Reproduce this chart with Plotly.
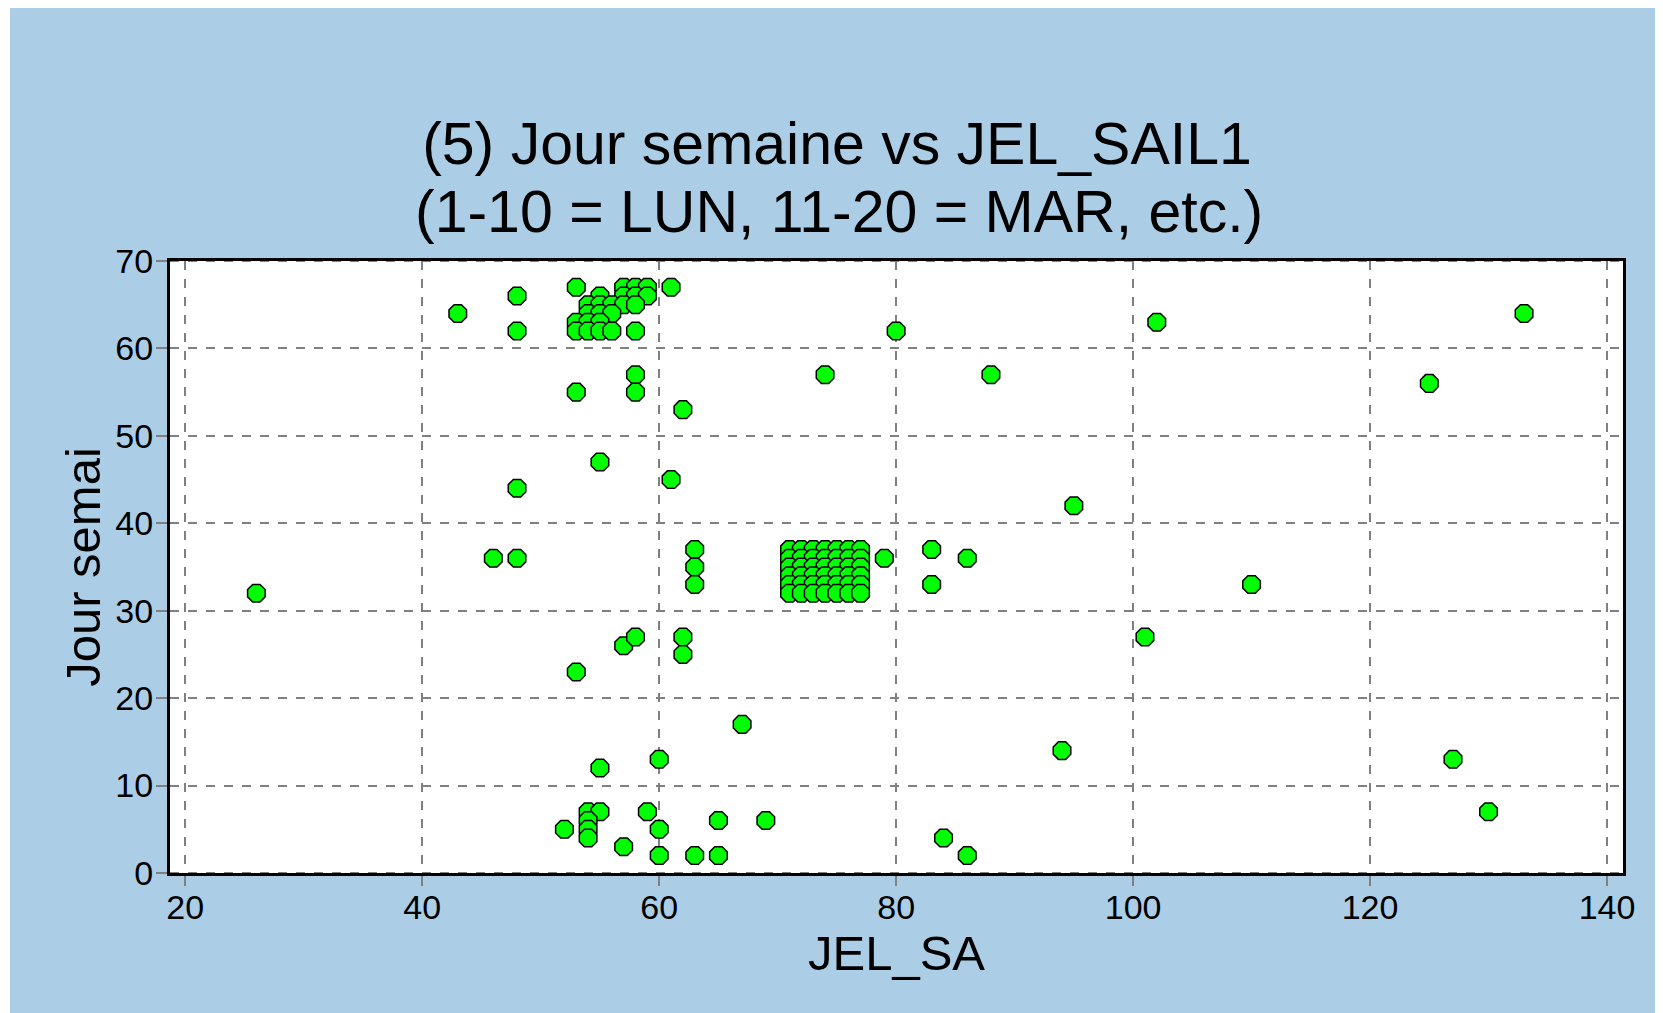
import plotly.graph_objects as go

# ---- data ----
jel_sa = [
    26, 43, 48, 48, 46, 48, 48,
    53, 57, 58, 59, 61,
    55, 57, 58, 59,
    54, 55, 56, 57, 58,
    54, 55, 56,
    53, 54, 55,
    53, 54, 55, 56, 58,
    53, 58, 58, 62, 55, 61,
    74, 80, 88, 102, 133, 125, 95,
    63, 63, 63,
    71, 72, 73, 74, 75, 76, 77,
    71, 72, 73, 74, 75, 76, 77,
    71, 72, 73, 74, 75, 76, 77,
    71, 72, 73, 74, 75, 76, 77,
    71, 72, 73, 74, 75, 76, 77,
    71, 72, 73, 74, 75, 76, 77,
    79, 83, 83, 86, 110,
    57, 58, 62, 62, 101, 53,
    67, 94, 127, 60, 55,
    52, 54, 55, 54, 54, 54, 57, 59, 60, 60, 63, 65, 65, 69, 84, 86, 130,
]
jour_semaine = [
    32, 64, 66, 62, 36, 36, 44,
    67, 67, 67, 67, 67,
    66, 66, 66, 66,
    65, 65, 65, 65, 65,
    64, 64, 64,
    63, 63, 63,
    62, 62, 62, 62, 62,
    55, 57, 55, 53, 47, 45,
    57, 62, 57, 63, 64, 56, 42,
    37, 35, 33,
    37, 37, 37, 37, 37, 37, 37,
    36, 36, 36, 36, 36, 36, 36,
    35, 35, 35, 35, 35, 35, 35,
    34, 34, 34, 34, 34, 34, 34,
    33, 33, 33, 33, 33, 33, 33,
    32, 32, 32, 32, 32, 32, 32,
    36, 37, 33, 36, 33,
    26, 27, 27, 25, 27, 23,
    17, 14, 13, 13, 12,
    5, 7, 7, 6, 5, 4, 3, 7, 5, 2, 2, 2, 6, 6, 4, 2, 7,
]
x_ticks = [20, 40, 60, 80, 100, 120, 140]
y_ticks = [0, 10, 20, 30, 40, 50, 60, 70]

title_line1 = "(5) Jour semaine vs JEL_SAIL1"
title_line2 = "(1-10 = LUN, 11-20 = MAR, etc.)"
x_title = "JEL_SA"
y_title = "Jour semai"

# ---- style ----
BLUE = "#ABCEE6"
GRID = "#808080"
FONT = "Liberation Sans, Arial, sans-serif"

fig = go.Figure()
fig.add_trace(go.Scatter(
    x=jel_sa, y=jour_semaine, mode="markers",
    marker=dict(symbol="octagon", size=19, color="#00FF00",
                line=dict(color="black", width=1.5)),
    showlegend=False, hoverinfo="x+y",
))

W, H = 1663, 1013
L, R, T, B = 162, 48, 253, 148
pw = W - L - R
ph = H - T - B

fig.update_layout(
    width=W, height=H,
    margin=dict(l=L, r=R, t=T, b=B, pad=0),
    paper_bgcolor=BLUE,
    plot_bgcolor="white",
    font=dict(family=FONT, color="black"),
    title=dict(text=title_line1, font=dict(size=59, family=FONT, color="black"),
               xref="container", x=829 / W, xanchor="center",
               yref="container", y=1 - 135 / H, yanchor="middle"),
    xaxis=dict(
        range=[18.71, 141.35], tickvals=x_ticks, ticktext=[str(v) for v in x_ticks],
        showgrid=True, gridcolor=GRID, gridwidth=2, griddash="9px,9px",
        showline=True, linecolor="black", linewidth=3, mirror=True,
        ticks="outside", ticklen=10, tickwidth=2, tickcolor=GRID,
        tickfont=dict(size=34, family=FONT, color="black"),
        ticklabelstandoff=-8,
        zeroline=False,
        title=dict(text=x_title, font=dict(size=49, family=FONT, color="black"), standoff=9),
        automargin=False,
    ),
    yaxis=dict(
        range=[0, 70], tickvals=y_ticks, ticktext=[str(v) for v in y_ticks],
        showgrid=True, gridcolor=GRID, gridwidth=2, griddash="9px,9px",
        showline=True, linecolor="black", linewidth=3, mirror=True,
        ticks="outside", ticklen=11, tickwidth=2, tickcolor=GRID,
        tickfont=dict(size=34, family=FONT, color="black"),
        ticklabelstandoff=-4,
        zeroline=False,
        title=dict(text=y_title, font=dict(size=49, family=FONT, color="black"), standoff=0),
        automargin=False,
    ),
    annotations=[dict(
        text=title_line2, showarrow=False,
        xref="paper", yref="paper",
        x=(831 - L) / pw, y=(H - B - 204) / ph,
        xanchor="center", yanchor="middle",
        font=dict(size=59, family=FONT, color="black"),
    )],
    shapes=[
        # thin white strip at the left edge of the picture
        dict(type="rect", xref="paper", yref="paper", layer="below",
             x0=-(L + 10) / pw, x1=(2 - L) / pw, y0=-B / ph - 0.1, y1=(H - B + 20) / ph,
             fillcolor="white", line=dict(width=0)),
        # dashed grey grid over the top and bottom frame lines
        dict(type="line", xref="paper", yref="y", layer="above",
             x0=0, x1=1, y0=0, y1=0, line=dict(color=GRID, width=2, dash="9px,9px")),
        dict(type="line", xref="paper", yref="y", layer="above",
             x0=0, x1=1, y0=70, y1=70, line=dict(color=GRID, width=2, dash="9px,9px")),
    ],
)

fig.write_html("out.html")
